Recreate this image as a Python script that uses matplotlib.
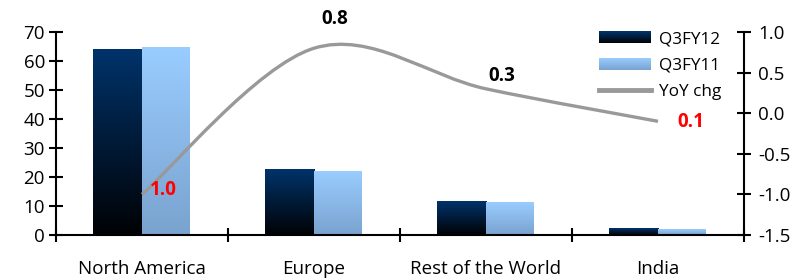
import numpy as np
import matplotlib
matplotlib.use("Agg")
import matplotlib.pyplot as plt
from matplotlib.patches import Rectangle
from matplotlib.legend_handler import HandlerBase
from matplotlib.lines import Line2D
from matplotlib.colors import to_rgb
from matplotlib.path import Path
from matplotlib.patches import PathPatch

plt.rcParams['font.family'] = ['Open Sans', 'DejaVu Sans']

categories = ["North America", "Europe", "Rest of the World", "India"]
q3fy12 = [64.0, 22.7, 11.7, 2.1]
q3fy11 = [64.6, 22.0, 11.1, 2.0]
yoy = [-1.0, 0.8, 0.3, -0.1]
series_names = ["Q3FY12", "Q3FY11", "YoY chg"]

dark_top, dark_bot = "#00336a", "#000205"
light_top, light_bot = "#99ccff", "#7aa3cf"
line_color = "#999999"

FS = 13.5
LFS = 12.3
W, H = 809, 278
fig = plt.figure(figsize=(W / 100, H / 100), dpi=100)
ax = fig.add_axes([56 / W, 1 - 235 / H, (744 - 56) / W, (235 - 32) / H])
ax2 = ax.twinx()

n = len(categories)
x = np.arange(n)
bw = 0.287


def grad_img(top, bot, steps=64):
    t = np.linspace(0, 1, steps)[:, None]
    a, b = np.array(to_rgb(bot)), np.array(to_rgb(top))
    return (a[None, :] * (1 - t) + b[None, :] * t)[:, None, :]


img_dark = grad_img(dark_top, dark_bot)
img_light = grad_img(light_top, light_bot)
for i in range(n):
    ax.imshow(img_dark, extent=[x[i] - bw, x[i], 0, q3fy12[i]], origin='lower',
              aspect='auto', zorder=2, interpolation='bilinear')
    ax.imshow(img_light, extent=[x[i], x[i] + bw * 0.97, 0, q3fy11[i]], origin='lower',
              aspect='auto', zorder=2, interpolation='bilinear')

ax.set_xlim(-0.5, n - 0.5)
ax.set_ylim(0, 70)
ax.set_yticks(np.arange(0, 71, 10))
ax.set_xticks(np.arange(-0.5, n, 1.0))
ax.set_xticklabels([])
ax.set_xticks(x, minor=True)
ax.set_xticklabels(categories, minor=True)
ax.tick_params(axis='x', which='minor', length=0, pad=18, labelsize=FS)
ax.tick_params(axis='x', which='major', direction='inout', length=10, width=1.5)
ax.tick_params(axis='y', direction='inout', length=10, width=1.5, labelsize=FS, pad=3)

for a in (ax, ax2):
    a.spines['top'].set_visible(False)
    for s in ('left', 'bottom', 'right'):
        a.spines[s].set_linewidth(1.5)
ax.spines['right'].set_visible(False)
ax2.spines['left'].set_visible(False)
ax2.spines['bottom'].set_visible(False)

# smoothed line (Bezier through data points, Excel-like smoothing)
pts = np.column_stack([x.astype(float), np.array(yoy)])
verts = [tuple(pts[0])]
codes = [Path.MOVETO]
for i in range(n - 1):
    p0 = pts[i - 1] if i > 0 else pts[i]
    p1, p2 = pts[i], pts[i + 1]
    p3 = pts[i + 2] if i + 2 < n else pts[i + 1]
    c1 = p1 + (p2 - p0) / 6
    c2 = p2 - (p3 - p1) / 6
    verts += [tuple(c1), tuple(c2), tuple(p2)]
    codes += [Path.CURVE4] * 3
ax2.add_patch(PathPatch(Path(verts, codes), facecolor='none', edgecolor=line_color,
                        lw=2.4, zorder=3, capstyle='butt'))
ax2.set_ylim(-1.5, 1.0)
ax2.set_yticks(np.arange(-1.5, 1.01, 0.5))
ax2.set_yticklabels([f"{v:.1f}" for v in np.arange(-1.5, 1.01, 0.5)])
ax2.tick_params(axis='y', direction='inout', length=10, width=1.5, labelsize=FS, pad=5)

offsets = [(21, 4), (21, 29), (16, 13), (33, -1)]
for i in range(n):
    v = yoy[i]
    ax2.annotate(f"{abs(v):.1f}", (x[i], v), xytext=offsets[i], textcoords='offset pixels',
                 ha='center', va='center', fontsize=13.5, fontweight='bold',
                 color='red' if v < 0 else 'black', zorder=5)


class GradHandler(HandlerBase):
    def __init__(self, top, bot):
        super().__init__()
        self.top, self.bot = np.array(to_rgb(top)), np.array(to_rgb(bot))

    def create_artists(self, legend, orig_handle, xdescent, ydescent, width, height,
                       fontsize, trans):
        arts = []
        k = 24
        h = height
        y0 = -ydescent
        for j in range(k):
            t = j / (k - 1)
            c = self.bot * (1 - t) + self.top * t
            arts.append(Rectangle((-xdescent, y0 + h * j / k), width, h / k * 1.05,
                                  facecolor=c, edgecolor='none', transform=trans))
        return arts


px = LFS * 100 / 72
h1 = Rectangle((0, 0), 1, 1)
h2 = Rectangle((0, 0), 1, 1)
h3 = Line2D([], [], color=line_color, lw=3.5)
leg = fig.legend([h1, h2, h3], series_names, loc='upper left',
                 bbox_to_anchor=(599 / W, 1 - 31 / H), frameon=False, fontsize=LFS,
                 handlelength=52 / px, handleheight=12 / px, handletextpad=8 / px,
                 labelspacing=0.62,
                 borderpad=0, borderaxespad=0,
                 handler_map={h1: GradHandler(dark_top, dark_bot),
                              h2: GradHandler(light_top, light_bot)})

fig.savefig("out.png", dpi=100)
